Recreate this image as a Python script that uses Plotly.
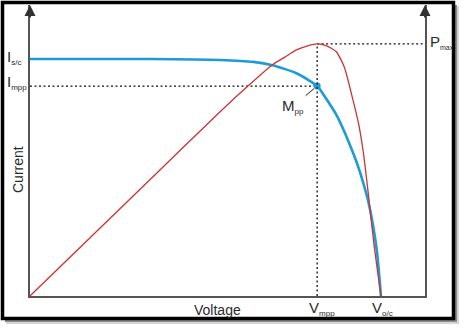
import plotly.graph_objects as go

# ---- data (schematic PV module curves) ----
V_iv = [0, 7.5, 11.9, 14.0, 15.2, 16.7, 18.0, 18.61, 19.24, 19.74, 20.18, 20.56, 20.87, 21.18, 21.50, 21.75, 22.0]
I_iv = [5.00, 5.00, 4.98, 4.94, 4.87, 4.70, 4.43, 4.14, 3.80, 3.44, 3.08, 2.74, 2.41, 2.03, 1.50, 0.93, 0.0]

V_pv = [0, 7.5, 11.9, 13.8, 15.2, 16.0, 16.7, 17.4, 18.0, 18.6, 19.2, 19.7, 20.2, 20.6, 20.9, 21.2, 21.55, 22.0]
P_pv = [0, 36.7, 58.2, 67.0, 73.1, 75.6, 77.8, 79.1, 79.7, 79.1, 77.2, 72.4, 62.9, 54.4, 45.2, 32.6, 16.8, 0.0]

Isc, Impp = 5.0, 4.43
Vmpp, Voc = 18.0, 22.0
Pmax = 79.7

X_MAX, I_MAX, P_MAX = 24.76, 6.14, 92.0

W, H = 463, 328
def px(x): return x / W
def py(y): return 1 - y / H

BLUE = "#1e9bd7"
RED = "#cc3333"
AX = "#555555"
TXT = "#2a2a2a"
FONT = "Arial, Liberation Sans, sans-serif"
DOT = dict(color="#111", width=1.3, dash="2px,2.5px")

fig = go.Figure()

# dotted guides
fig.add_trace(go.Scatter(x=[0, Vmpp], y=[Impp, Impp], mode="lines", line=DOT, yaxis="y"))
fig.add_trace(go.Scatter(x=[Vmpp, Vmpp], y=[0, Pmax], mode="lines", line=DOT, yaxis="y2"))
fig.add_trace(go.Scatter(x=[Vmpp, X_MAX], y=[Pmax, Pmax], mode="lines", line=DOT, yaxis="y2"))

# P-V curve
fig.add_trace(go.Scatter(x=V_pv, y=P_pv, mode="lines", yaxis="y2",
                         line=dict(color=RED, width=1.3, shape="spline", smoothing=0.6)))
# I-V curve
fig.add_trace(go.Scatter(x=V_iv, y=I_iv, mode="lines", yaxis="y",
                         line=dict(color=BLUE, width=2.6, shape="spline", smoothing=0.6)))
# MPP point
fig.add_trace(go.Scatter(x=[Vmpp], y=[Impp], mode="markers", yaxis="y",
                         marker=dict(color=BLUE, size=7)))

ann = []
def lab(text, **kw):
    d = dict(text=text, showarrow=False, font=dict(family=FONT, size=15, color=TXT))
    d.update(kw)
    ann.append(d)

SUB = '<sub><span style="font-size:8px">%s</span></sub>'
lab("I" + SUB % "s/c", xref="paper", yref="y", x=px(5), y=Isc, xanchor="left", yanchor="middle", yshift=2)
lab("I" + SUB % "mpp", xref="paper", yref="y", x=px(5), y=Impp, xanchor="left", yanchor="middle", yshift=4)
lab("P" + '<sub><span style="font-size:7px">max</span></sub>', xref="paper", yref="y2", x=px(428),
    y=Pmax, xanchor="left", yanchor="middle", yshift=2)
lab("V" + SUB % "mpp", xref="x", yref="paper", x=Vmpp, y=py(310), xanchor="center", yanchor="middle",
    xshift=5, yshift=2)
lab("V" + SUB % "o/c", xref="x", yref="paper", x=Voc, y=py(310), xanchor="center", yanchor="middle",
    xshift=2, yshift=2)
lab("Voltage", xref="paper", yref="paper", x=px(217), y=py(310), xanchor="center", yanchor="middle",
    font=dict(family=FONT, size=14, color=TXT))
lab("Current", xref="paper", yref="paper", x=px(18), y=py(170), xanchor="center", yanchor="middle",
    textangle=-90, font=dict(family=FONT, size=14, color=TXT))

# Mpp label with leader line
ann.append(dict(text="M" + SUB % "pp", x=Vmpp, y=Impp, xref="x", yref="y", showarrow=True,
                arrowhead=0, arrowwidth=1, arrowcolor="#222", ax=-24, ay=20, standoff=4,
                font=dict(family=FONT, size=15, color=TXT)))

# axis arrowheads
for xv in [0, X_MAX]:
    ann.append(dict(text="", x=xv, y=py(5), xref="x", yref="paper", showarrow=True,
                    arrowhead=2, arrowsize=1.1, arrowwidth=2, arrowcolor="#333",
                    ax=0, ay=14, standoff=0))

shapes = [
    dict(type="rect", xref="paper", yref="paper", x0=px(6), x1=px(459), y0=py(324), y1=py(6),
         fillcolor="#d6d6d6", line=dict(width=0), layer="below"),
    dict(type="rect", xref="paper", yref="paper", x0=px(5), x1=px(457), y0=py(322), y1=py(5),
         fillcolor="#8a8a8a", line=dict(width=0), layer="below"),
    dict(type="rect", xref="paper", yref="paper", x0=px(2.5), x1=px(453.5), y0=py(318.5), y1=py(2.5),
         fillcolor="white", line=dict(color="black", width=3.5), layer="below"),
]

fig.update_layout(
    width=W, height=H, margin=dict(l=0, r=0, t=0, b=0),
    paper_bgcolor="white", plot_bgcolor="rgba(0,0,0,0)",
    showlegend=False,
    xaxis=dict(domain=[px(30), px(425)], range=[0, X_MAX], showgrid=False, zeroline=False,
               showticklabels=False, ticks="", showline=True, linecolor=AX, linewidth=2),
    yaxis=dict(domain=[py(296), py(5)], range=[0, I_MAX], showgrid=False, zeroline=False,
               showticklabels=False, ticks="", showline=True, linecolor=AX, linewidth=2),
    yaxis2=dict(overlaying="y", side="right", anchor="x", range=[0, P_MAX], showgrid=False,
                zeroline=False, showticklabels=False, ticks="", showline=True, linecolor=AX, linewidth=2),
    annotations=ann, shapes=shapes,
)

fig.write_html("out.html")
